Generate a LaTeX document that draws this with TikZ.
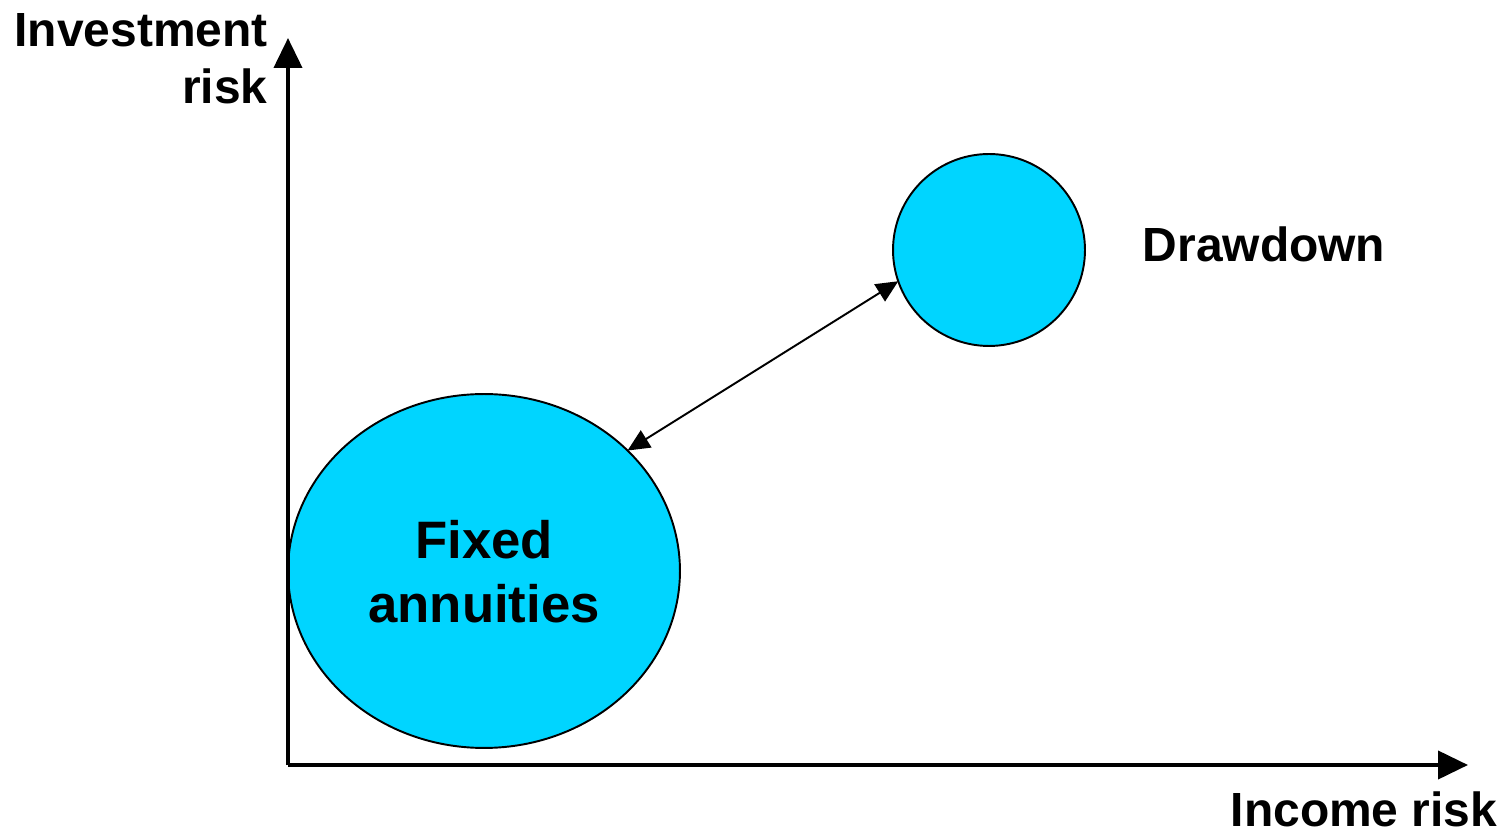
\documentclass[tikz,border=0pt]{standalone}
\usepackage{fontspec}
\setmainfont{Liberation Sans}
\usetikzlibrary{arrows.meta,shapes.geometric}
\definecolor{bubble}{HTML}{00D5FF}
\tikzset{
	axis/.style={line width=2.3pt, -{Triangle[length=0.6cm,width=0.56cm]}},
	lbl/.style={font=\fontsize{27.3}{32.5}\selectfont\bfseries, inner sep=0},
	bub/.style={draw, fill=bubble, line width=1.1pt, inner sep=0, outer sep=0}
}
\begin{document}
\begin{tikzpicture}[x=0.02cm,y=0.02cm]
			\useasboundingbox (0,0) rectangle (1504,835);
			\coordinate (o) at (288,70);
			\coordinate (ytip) at (288,797);
			\coordinate (xtip) at (1468,70);
			
			\node	(fixed) at (484,264) [bub, ellipse, minimum width=7.84cm, minimum height=7.08cm] {};
			\node	(draw) at (989,585) [bub, circle, minimum size=3.84cm] {};
			\node	(fixedtxt) at (484,263) [lbl, align=center, font=\fontsize{30}{36.5}\selectfont\bfseries] {Fixed\\annuities};
			\node	(drawtxt) at (1264,591) [lbl] {Drawdown};
			\node	(ylbl) at (268,776) [lbl, align=right, anchor=east] {Investment\\risk};
			\node	(xlbl) at (1364,26) [lbl] {Income risk};
			
			\draw 
			(o) edge[axis] (ytip)
			(o) edge[axis] (xtip)
			(fixed.40) edge[line width=1.1pt, {Triangle[length=0.44cm,width=0.4cm]}-{Triangle[length=0.44cm,width=0.4cm]}] (draw.199)
			;
		\end{tikzpicture}
\end{document}
